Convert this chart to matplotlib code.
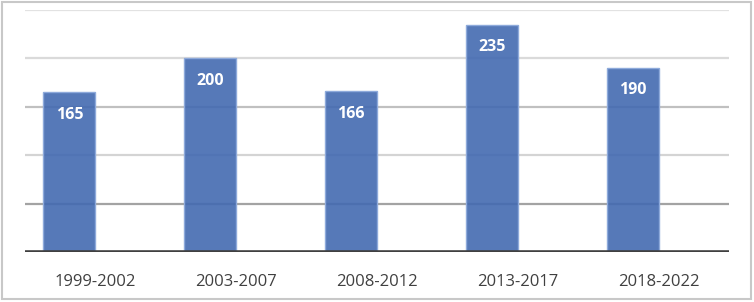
import matplotlib
matplotlib.use("Agg")
import matplotlib.pyplot as plt
from matplotlib.patches import Rectangle

categories = ["1999-2002", "2003-2007", "2008-2012", "2013-2017", "2018-2022"]
values = [165, 200, 166, 235, 190]
grid_levels = [50, 100, 150, 200, 250]
grid_colors = ["#a3a3a3", "#d4d4d4", "#c0c0c0", "#dadada", "#e2e2e2"]

plt.rcParams['font.family'] = ['Open Sans', 'DejaVu Sans']

fig = plt.figure(figsize=(7.54, 3.02), dpi=100)
ax = fig.add_axes([25/754, 50/302, 704/754, 242/302])

x = list(range(len(categories)))
bw = 0.37
for lvl, col in zip(grid_levels, grid_colors):
    ax.axhline(lvl, color=col, lw=1.6, zorder=1)

bx = [xi - bw / 2 for xi in x]
bars = ax.bar(bx, values, width=bw, color=(0x43/255, 0x6A/255, 0xB1/255, 0.9),
              edgecolor="#8eaadb", linewidth=1.0, zorder=2)
for xi, v in zip(bx, values):
    ax.annotate(str(v), xy=(xi, v), xytext=(0, -16), textcoords="offset points",
                ha="center", va="center", color="white", fontsize=11.5,
                fontweight="bold", zorder=4)

ax.axhline(0, color="#404040", lw=2.6, zorder=3)
ax.set_xlim(-0.5, len(categories) - 0.5)
ax.set_ylim(0, 250)
ax.set_xticks(x)
ax.set_xticklabels(categories, fontsize=12, color="#404040")
ax.tick_params(axis="x", length=0, pad=16)
ax.set_yticks([])
for s in ax.spines.values():
    s.set_visible(False)

fig.patches.append(Rectangle((2/754, 3/302), 749/754, 297/302, transform=fig.transFigure,
                             fill=False, edgecolor="#c8c8c8", linewidth=1.5))

fig.savefig("out.png", dpi=100)
